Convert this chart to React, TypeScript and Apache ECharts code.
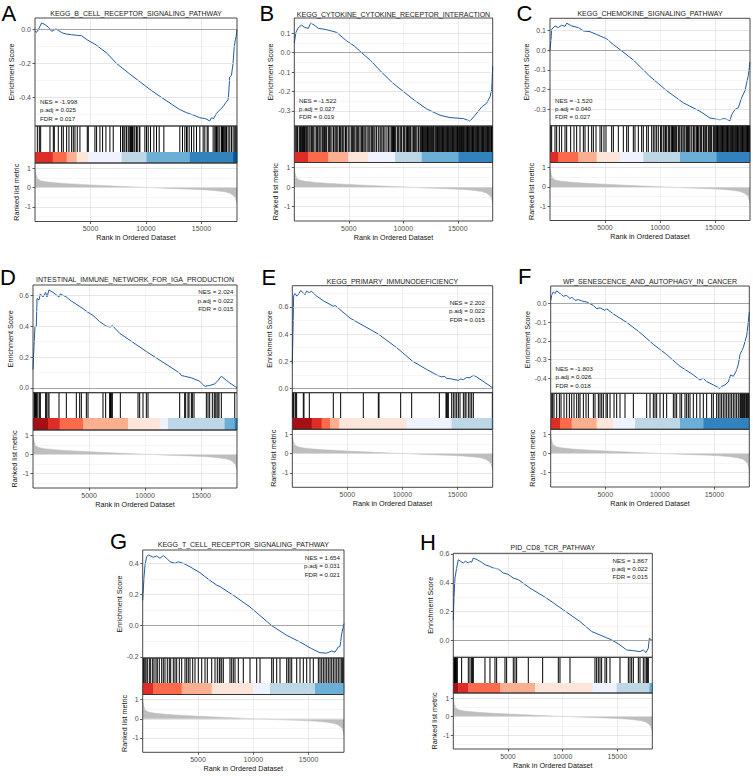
import React, { useEffect, useRef } from "react";
import * as echarts from "echarts";

const FONT = '"Liberation Sans", Arial, Helvetica, sans-serif';
const X_MAX = 18200;
const X_LABEL_TICKS = [5000, 10000, 15000];

const LETTERS = ["A", "B", "C", "D", "E", "F", "G", "H"];
const TITLES = [
  "KEGG_B_CELL_RECEPTOR_SIGNALING_PATHWAY",
  "KEGG_CYTOKINE_CYTOKINE_RECEPTOR_INTERACTION",
  "KEGG_CHEMOKINE_SIGNALING_PATHWAY",
  "INTESTINAL_IMMUNE_NETWORK_FOR_IGA_PRODUCTION",
  "KEGG_PRIMARY_IMMUNODEFICIENCY",
  "WP_SENESCENCE_AND_AUTOPHAGY_IN_CANCER",
  "KEGG_T_CELL_RECEPTOR_SIGNALING_PATHWAY",
  "PID_CD8_TCR_PATHWAY",
];
const NES = ["-1.998", "-1.522", "-1.520", "2.024", "2.202", "-1.803", "1.654", "1.867"];
const PADJ = ["0.025", "0.027", "0.040", "0.022", "0.022", "0.026", "0.031", "0.022"];
const FDR = ["0.017", "0.019", "0.027", "0.015", "0.015", "0.018", "0.021", "0.015"];

// running enrichment score: [rank, ES]
const ES_A = [[0,-0.01],[150,-0.015],[300,0.0],[600,0.04],[900,0.03],[1200,0.015],[1500,-0.01],[1890,0.005],[2100,-0.005],[2500,-0.02],[2850,-0.026],[3300,-0.03],[3800,-0.033],[4200,-0.036],[4700,-0.06],[5500,-0.09],[6500,-0.14],[7350,-0.2],[8500,-0.26],[9500,-0.31],[10500,-0.36],[11400,-0.4],[12300,-0.44],[13000,-0.47],[13640,-0.49],[14300,-0.505],[14840,-0.52],[15300,-0.525],[15500,-0.53],[15740,-0.54],[15900,-0.52],[16100,-0.525],[16340,-0.495],[16700,-0.47],[16940,-0.455],[17200,-0.43],[17390,-0.415],[17450,-0.38],[17540,-0.28],[17700,-0.27],[17840,-0.2],[17950,-0.1],[18050,-0.06],[18120,-0.04],[18200,0.0]];
const ES_B = [[0,0.05],[150,0.105],[370,0.13],[670,0.143],[980,0.13],[1290,0.126],[1500,0.154],[1900,0.14],[2200,0.126],[2970,0.119],[3880,0.105],[4800,0.061],[5500,0.035],[6180,0.0],[7000,-0.04],[8000,-0.1],[9000,-0.155],[10000,-0.2],[11000,-0.245],[12140,-0.29],[13370,-0.323],[14290,-0.335],[15510,-0.34],[16120,-0.353],[16580,-0.323],[17190,-0.28],[17650,-0.26],[17960,-0.227],[18110,-0.19],[18200,-0.07]];
const ES_C = [[0,0.0],[91,0.053],[152,0.105],[455,0.122],[758,0.114],[1062,0.126],[1365,0.12],[1517,0.136],[1971,0.122],[2578,0.114],[3033,0.097],[3640,0.093],[4246,0.079],[5156,0.057],[5763,0.028],[6430,0.0],[7583,-0.05],[9099,-0.133],[10616,-0.205],[12132,-0.266],[13649,-0.309],[14559,-0.343],[15469,-0.352],[15800,-0.345],[16100,-0.35],[16379,-0.357],[16530,-0.326],[16833,-0.3],[17137,-0.291],[17440,-0.24],[17743,-0.205],[18047,-0.128],[18199,-0.059]];
const ES_D = [[0,0.12],[89,0.27],[178,0.4],[297,0.4],[357,0.58],[535,0.57],[654,0.61],[892,0.59],[1130,0.62],[1249,0.59],[1427,0.636],[1784,0.62],[2319,0.59],[2438,0.61],[2974,0.59],[3420,0.563],[3568,0.557],[4460,0.514],[4906,0.49],[5352,0.47],[5947,0.43],[6542,0.4],[6900,0.395],[7077,0.405],[7731,0.354],[10110,0.236],[13083,0.096],[13232,0.08],[13530,0.075],[14124,0.065],[14868,0.043],[15314,0.01],[15760,0.015],[16206,0.025],[16503,0.048],[16801,0.075],[17545,0.032],[18200,0.0]];
const ES_E = [[0,0.18],[61,0.41],[121,0.68],[242,0.7],[400,0.68],[545,0.69],[757,0.72],[999,0.704],[1150,0.69],[1302,0.716],[1545,0.704],[1726,0.716],[2211,0.679],[2817,0.645],[3725,0.605],[3900,0.61],[4331,0.58],[5239,0.518],[7813,0.4],[9479,0.3],[10933,0.2],[12205,0.14],[13113,0.1],[13568,0.085],[13800,0.09],[14022,0.075],[14476,0.07],[15082,0.06],[15300,0.07],[15536,0.065],[15800,0.08],[16142,0.08],[16445,0.097],[16748,0.085],[18200,0.005]];
const ES_F = [[0,0.018],[92,0.045],[244,0.064],[397,0.055],[550,0.069],[855,0.055],[1160,0.04],[1466,0.045],[1771,0.027],[1924,0.036],[2229,0.018],[2534,0.022],[2840,0.015],[3298,0.009],[3908,-0.009],[4214,-0.027],[4519,-0.022],[4977,-0.036],[5130,-0.027],[5740,-0.055],[6962,-0.1],[8183,-0.155],[9405,-0.218],[10626,-0.273],[11847,-0.336],[13069,-0.382],[13679,-0.41],[13985,-0.4],[14290,-0.418],[14901,-0.436],[15511,-0.455],[15664,-0.445],[15969,-0.436],[16275,-0.42],[16489,-0.382],[16733,-0.39],[16977,-0.364],[17191,-0.327],[17344,-0.273],[17649,-0.236],[17954,-0.173],[18107,-0.1],[18199,-0.045]];
const ES_G = [[0,0.163],[118,0.31],[208,0.39],[359,0.443],[510,0.454],[721,0.447],[962,0.439],[1263,0.447],[1564,0.432],[1865,0.45],[2200,0.43],[2467,0.41],[2920,0.4],[3221,0.41],[3673,0.4],[4275,0.378],[5179,0.34],[6083,0.29],[6700,0.26],[7000,0.25],[8192,0.195],[9702,0.12],[11664,0.0],[13020,-0.062],[14222,-0.105],[15280,-0.148],[16031,-0.174],[16637,-0.176],[17089,-0.163],[17387,-0.17],[17685,-0.137],[17839,-0.133],[17993,-0.052],[18200,0.013]];
const ES_H = [[0,0.144],[61,0.294],[152,0.433],[305,0.503],[457,0.56],[671,0.549],[915,0.537],[1100,0.55],[1372,0.537],[1524,0.549],[1680,0.543],[1829,0.572],[2200,0.56],[2591,0.542],[2896,0.526],[3300,0.515],[3659,0.503],[4116,0.496],[4573,0.468],[5000,0.46],[5488,0.433],[5945,0.422],[7012,0.364],[8537,0.294],[10061,0.213],[11585,0.132],[12652,0.063],[13415,0.039],[14000,0.02],[14482,0.005],[15244,-0.03],[15854,-0.065],[16463,-0.07],[17073,-0.076],[17378,-0.065],[17622,-0.083],[17835,-0.053],[17927,0.016],[18200,0.0]];

const Y_TICKS_A = [-0.4, -0.2, 0.0];
const Y_TICKS_B = [-0.3, -0.2, -0.1, 0.0, 0.1];
const Y_TICKS_C = [-0.3, -0.2, -0.1, 0.0, 0.1];
const Y_TICKS_D = [0.0, 0.2, 0.4, 0.6];
const Y_TICKS_E = [0.0, 0.2, 0.4, 0.6];
const Y_TICKS_F = [-0.4, -0.3, -0.2, -0.1, 0.0];
const Y_TICKS_G = [-0.2, 0.0, 0.2, 0.4];
const Y_TICKS_H = [0.0, 0.2, 0.4, 0.6];

// gene-set hit positions (rank)
const HITS_A = [210,390,510,1350,1650,1740,2100,2400,2550,2850,3060,3300,3450,3600,3810,4050,4710,4800,5400,5550,5850,6090,6390,6750,7050,7710,7890,8010,8100,8250,8400,8490,8610,8700,8790,8910,9000,9150,9210,9390,9450,9900,10050,10200,10410,10710,10950,11190,11610,13050,13290,13500,13650,13710,13890,14100,14310,14550,14850,15150,15300,15510,15600,16050,16200,16290,16350,16410,16500,16650,16800,16890,16950,17010,17100,17190,17250,17400,17550,17700,17850,18000,18090,18180];
const HITS_B = [61,153,230,306,450,520,581,673,760,850,930,1009,1132,1230,1350,1450,1591,1650,1744,1900,2050,2141,2264,2350,2450,2600,2700,2780,2880,2967,3120,3212,3300,3450,3600,3732,3824,3900,4000,4150,4252,4374,4450,4550,4700,4803,4950,5100,5262,5354,5450,5550,5680,5782,5874,6026,6150,6250,6380,6485,6577,6750,6850,6944,7097,7189,7300,7400,7550,7709,7862,7950,8050,8200,8321,8500,8650,8780,8933,9000,9100,9200,9300,9450,9545,9698,9780,9850,10003,10080,10156,10309,10380,10462,10550,10650,10800,10921,11000,11074,11150,11250,11400,11533,11600,11686,11760,11839,11920,11992,12060,12145,12220,12298,12380,12451,12520,12600,12695,12750,12800,12909,12980,13062,13140,13215,13300,13368,13440,13521,13600,13674,13750,13827,13900,13980,14060,14133,14210,14286,14360,14439,14520,14592,14670,14745,14820,14898,14970,15051,15143,15200,15265,15330,15388,15450,15510,15590,15663,15740,15816,15890,15969,16050,16122,16200,16275,16350,16428,16500,16581,16650,16734,16800,16887,16960,17040,17120,17193,17270,17346,17420,17499,17570,17652,17730,17805,17880,17958,18040,18080,18111,18170];
const HITS_C = [61,152,455,607,849,1062,1365,1517,1880,2184,2426,2730,3033,3185,3488,3791,3943,4186,4550,4701,4913,5095,5611,5763,6218,6673,6976,7128,7583,7734,8037,8341,8492,8796,8947,9251,9402,9550,9706,9857,10050,10161,10312,10464,10500,10616,10767,10850,10919,11070,11150,11222,11300,11374,11450,11525,11677,11750,11829,11980,12100,12200,12284,12435,12500,12587,12650,12739,12900,13042,13100,13194,13345,13420,13497,13649,13720,13800,13952,14000,14103,14180,14255,14407,14480,14558,14630,14710,14862,14940,15013,15090,15165,15240,15317,15390,15468,15540,15620,15700,15772,15850,15923,16000,16075,16150,16226,16300,16378,16450,16530,16600,16681,16760,16833,16900,16985,17060,17136,17210,17288,17360,17440,17520,17591,17670,17743,17820,17894,17970,18046,18100,18137,18180];
const HITS_D = [89,149,208,238,297,357,446,595,654,1130,1190,1338,1428,2320,2974,3866,4164,4312,4758,4907,6245,6483,6840,6900,6929,6989,7078,7792,9368,9517,9814,10112,10260,13086,13532,13621,13829,13918,14127,14216,14364,15465,15614,15762,16000,16171,16260,16408,16505,16594,16802,18000];
const HITS_E = [30,91,151,303,394,999,1060,1544,3724,4391,6450,7812,7873,9841,10840,13353,13959,14020,14080,14171,14474,14625,14777,14928,15080,15231,15534,15685,15776,15988,16139,16291,16442,18168];
const HITS_F = [92,183,305,550,794,947,1222,1466,1710,1924,2138,2382,2565,2688,2993,3237,3451,3909,4062,4367,4519,4673,4825,5070,5192,5436,5803,6047,6352,6810,7574,8796,9101,9406,9559,9712,10017,10323,10628,11239,11391,11544,11850,12002,12308,12460,12613,12766,13071,13377,13682,13987,14293,14751,14903,15209,15361,15514,15667,15819,15972,16125,16278,16430,16583,16736,16888,17041,17194,17347,17408,17499,17591,17652,17744,17805,17896,17957,18018,18110,18171];
const HITS_G = [54,118,208,298,416,597,723,904,1022,1203,1320,1501,1718,1863,2016,2224,2405,2532,2767,2921,3074,3309,3526,3825,3978,4123,4277,4521,4729,5027,5335,5633,5841,6239,6537,6745,6926,6990,7143,7288,7894,8047,8192,8346,8644,9096,9702,10308,10606,11664,11809,12116,12414,13020,13166,13319,13473,13925,14223,14522,14829,15127,15426,15878,16031,16185,16330,16484,16637,16782,16936,17089,17234,17388,17542,17686,17840,17993,18083,18138];
const HITS_H = [61,91,122,152,183,213,244,305,366,762,1372,1525,1677,1768,1829,2897,3354,3811,3964,4726,4878,5488,5641,5793,6860,8171,9604,9757,10672,12958,13111,13263,13416,13568,13873,14025,14330,15245,16007,16160,16312,16465,16922,17074,17379,17532,17684,17745,17836];

// colour band segments: [from rank, to rank, colour]
const BAND_A = [[0,1590,"#DE2D26"],[1590,2850,"#FB6A4A"],[2850,3750,"#FCAE91"],[3750,4800,"#FEE5D9"],[4800,7800,"#EFF3FF"],[7800,10050,"#BDD7E7"],[10050,13950,"#6BAED6"],[13950,17850,"#3182BD"],[17850,18200,"#08519C"]];
const BAND_B = [[0,1285,"#DE2D26"],[1285,3120,"#FB6A4A"],[3120,4956,"#FCAE91"],[4956,6791,"#FEE5D9"],[6791,9238,"#EFF3FF"],[9238,11686,"#BDD7E7"],[11686,15051,"#6BAED6"],[15051,18200,"#3182BD"]];
const BAND_C = [[0,758,"#DE2D26"],[758,2578,"#FB6A4A"],[2578,4246,"#FCAE91"],[4246,6369,"#FEE5D9"],[6369,8492,"#EFF3FF"],[8492,11829,"#BDD7E7"],[11829,15165,"#6BAED6"],[15165,18200,"#3182BD"]];
const BAND_D = [[0,1340,"#A50F15"],[1340,2380,"#DE2D26"],[2380,4460,"#FB6A4A"],[4460,8480,"#FCAE91"],[8480,11300,"#FEE5D9"],[11300,12040,"#EFF3FF"],[12040,17100,"#BDD7E7"],[17100,18000,"#6BAED6"],[18000,18200,"#3182BD"]];
const BAND_E = [[0,1760,"#A50F15"],[1760,2660,"#DE2D26"],[2660,3420,"#FB6A4A"],[3420,4270,"#FCAE91"],[4270,10390,"#FEE5D9"],[10390,14470,"#EFF3FF"],[14470,18100,"#BDD7E7"],[18100,18200,"#6BAED6"]];
const BAND_F = [[0,855,"#DE2D26"],[855,1924,"#FB6A4A"],[1924,4214,"#FCAE91"],[4214,5741,"#FEE5D9"],[5741,7727,"#EFF3FF"],[7727,11850,"#BDD7E7"],[11850,13987,"#6BAED6"],[13987,18200,"#3182BD"]];
const BAND_G = [[0,960,"#DE2D26"],[960,3526,"#FB6A4A"],[3526,6239,"#FCAE91"],[6239,10000,"#FEE5D9"],[10000,11510,"#EFF3FF"],[11510,15580,"#BDD7E7"],[15580,18200,"#6BAED6"]];
const BAND_H = [[0,457,"#A50F15"],[457,1372,"#DE2D26"],[1372,4269,"#FB6A4A"],[4269,7470,"#FCAE91"],[7470,12745,"#FEE5D9"],[12745,14940,"#EFF3FF"],[14940,17930,"#BDD7E7"],[17930,18200,"#6BAED6"]];

// ranked list metric (shared): [rank, metric]
const METRIC = [[0,1.0],[30,0.85],[100,0.65],[250,0.45],[500,0.36],[1000,0.3],[2000,0.24],[3000,0.2],[5000,0.14],[7500,0.07],[9500,0.02],[10500,0.0],[12000,-0.04],[14000,-0.08],[15500,-0.12],[16500,-0.17],[17200,-0.23],[17600,-0.3],[17900,-0.42],[18050,-0.55],[18150,-0.72],[18200,-0.85]];
const METRIC_TICKS = [-1, 0, 1];
const METRIC_RANGE = [-1.75, 1.27];

const ES_ALL = [ES_A, ES_B, ES_C, ES_D, ES_E, ES_F, ES_G, ES_H];
const YT_ALL = [Y_TICKS_A, Y_TICKS_B, Y_TICKS_C, Y_TICKS_D, Y_TICKS_E, Y_TICKS_F, Y_TICKS_G, Y_TICKS_H];
const HITS_ALL = [HITS_A, HITS_B, HITS_C, HITS_D, HITS_E, HITS_F, HITS_G, HITS_H];
const BAND_ALL = [BAND_A, BAND_B, BAND_C, BAND_D, BAND_E, BAND_F, BAND_G, BAND_H];

// panel geometry (px)
const LAYOUT = [
  { l: 35, r: 237, t: 18, tb: 126, gb: 152, cb: 163, bb: 221.5, lx: 1.5, ly: 13, ty: 13.3, nx: 40, ny: 101.5, na: "left" },
  { l: 294.3, r: 492.7, t: 18, tb: 126, gb: 152, cb: 162.5, bb: 221, lx: 259.5, ly: 13, ty: 14, nx: 299, ny: 100, na: "left" },
  { l: 550, r: 750, t: 18.3, tb: 125.7, gb: 152, cb: 162.5, bb: 220.5, lx: 516.5, ly: 13, ty: 13.3, nx: 555, ny: 100, na: "left" },
  { l: 33, r: 237, t: 285, tb: 392.7, gb: 418, cb: 430, bb: 488, lx: 0, ly: 277.5, ty: 279.3, nx: 233.5, ny: 291.7, na: "right" },
  { l: 292.3, r: 492.7, t: 285.7, tb: 392.7, gb: 418, cb: 429.3, bb: 487.3, lx: 261.5, ly: 277, ty: 281, nx: 485, ny: 302.3, na: "right" },
  { l: 550.7, r: 749.3, t: 286, tb: 393.3, gb: 418, cb: 429.3, bb: 487, lx: 518, ly: 276.8, ty: 281, nx: 555.5, ny: 368.3, na: "left" },
  { l: 142.7, r: 344, t: 550, tb: 658, gb: 683, cb: 694.5, bb: 752.3, lx: 110, ly: 541, ty: 544.3, nx: 340, ny: 557.3, na: "right" },
  { l: 453.3, r: 652.3, t: 553.3, tb: 657.3, gb: 683, cb: 693, bb: 749, lx: 420, ly: 542.5, ty: 547, nx: 647.7, ny: 560, na: "right" },
];

function gridValues(ticks: number[], min: number, max: number) {
  const step = ticks.length > 1 ? ticks[1] - ticks[0] : 1;
  const half = step / 2;
  const out: { v: number; major: boolean }[] = [];
  for (let k = Math.ceil(min / half - 1e-9); k * half <= max + 1e-9; k++) {
    const v = +(k * half).toFixed(6);
    const major = Math.abs(Math.round(v / step) * step - v) < 1e-6;
    out.push({ v, major });
  }
  return out;
}

function gridLineSeries(xi: number, vals: { v: number; major: boolean }[], zero: boolean) {
  const data: any[] = vals.map((g) => ({
    yAxis: g.v,
    lineStyle: { color: g.major ? "#DDDDDD" : "#ECECEC", width: g.major ? 0.7 : 0.5, type: "solid" },
  }));
  if (zero) data.push({ yAxis: 0, lineStyle: { color: "#9E9E9E", width: 0.9, type: "solid" } });
  return {
    type: "line",
    xAxisIndex: xi,
    yAxisIndex: xi,
    data: [],
    silent: true,
    z: 1,
    markLine: { silent: true, symbol: ["none", "none"], label: { show: false }, animation: false, data },
  };
}

function buildOption() {
  const grid: any[] = [];
  const xAxis: any[] = [];
  const yAxis: any[] = [];
  const series: any[] = [];
  const graphic: any[] = [];

  LAYOUT.forEach((L, i) => {
    const es = ES_ALL[i];
    const vals = es.map((d) => d[1]);
    const mx = Math.max(...vals);
    const mn = Math.min(...vals);
    const pad = (mx - mn) * 0.05;
    const ymin = mn - pad;
    const ymax = mx + pad;
    const w = L.r - L.l;
    const gi = i * 3;
    const frac = (L.cb - L.gb) / (L.cb - L.tb);

    grid.push({ left: L.l, top: L.t, width: w, height: L.tb - L.t });
    grid.push({ left: L.l, top: L.tb, width: w, height: L.cb - L.tb });
    grid.push({ left: L.l, top: L.cb, width: w, height: L.bb - L.cb });

    const xBase = (g: number, labels: boolean, split: boolean) => ({
      type: "value",
      gridIndex: g,
      position: "bottom",
      min: 0,
      max: X_MAX,
      interval: 2500,
      axisLine: { show: false, onZero: false },
      axisTick: {
        show: labels,
        customValues: X_LABEL_TICKS,
        length: 2.5,
        lineStyle: { color: "#333", width: 0.8 },
      },
      axisLabel: {
        show: labels,
        fontSize: 7,
        color: "#4D4D4D",
        fontFamily: FONT,
        margin: 3.5,
        formatter: (v: number) => (v > 0 && v % 5000 === 0 ? String(v) : ""),
      },
      splitLine: { show: split, lineStyle: { color: ["#DDDDDD", "#ECECEC"], width: 0.6 } },
      name: labels ? "Rank in Ordered Dataset" : "",
      nameLocation: "middle",
      nameGap: 12.5,
      nameTextStyle: { fontSize: 7.2, color: "#111", fontFamily: FONT },
    });
    xAxis.push(xBase(gi, false, true));
    xAxis.push(xBase(gi + 1, false, false));
    xAxis.push(xBase(gi + 2, true, true));

    yAxis.push({
      type: "value",
      gridIndex: gi,
      min: ymin,
      max: ymax,
      axisLine: { show: false, onZero: false },
      splitLine: { show: false },
      axisTick: { show: true, customValues: YT_ALL[i], length: 2.5, lineStyle: { color: "#333", width: 0.8 } },
      axisLabel: {
        customValues: YT_ALL[i],
        fontSize: 7,
        color: "#4D4D4D",
        fontFamily: FONT,
        margin: 4,
        formatter: (v: number) => v.toFixed(1),
      },
      name: "Enrichment Score",
      nameLocation: "middle",
      nameGap: 19,
      nameTextStyle: { fontSize: 7.2, color: "#111", fontFamily: FONT },
    });
    yAxis.push({ type: "value", gridIndex: gi + 1, min: 0, max: 1, show: false });
    yAxis.push({
      type: "value",
      gridIndex: gi + 2,
      min: METRIC_RANGE[0],
      max: METRIC_RANGE[1],
      axisLine: { show: false, onZero: false },
      splitLine: { show: false },
      axisTick: { show: true, customValues: METRIC_TICKS, length: 2.5, lineStyle: { color: "#333", width: 0.8 } },
      axisLabel: {
        customValues: METRIC_TICKS,
        fontSize: 7,
        color: "#4D4D4D",
        fontFamily: FONT,
        margin: 4,
        formatter: (v: number) => String(v),
      },
      name: "Ranked list metric",
      nameLocation: "middle",
      nameGap: 15,
      nameTextStyle: { fontSize: 7.2, color: "#111", fontFamily: FONT },
    });

    series.push(gridLineSeries(gi, gridValues(YT_ALL[i], ymin, ymax), true));
    series.push({
      type: "line",
      xAxisIndex: gi,
      yAxisIndex: gi,
      data: es,
      symbol: "none",
      silent: true,
      z: 3,
      lineStyle: { color: "#1F5CA5", width: 1 },
    });

    const hits = HITS_ALL[i];
    series.push({
      type: "custom",
      xAxisIndex: gi + 1,
      yAxisIndex: gi + 1,
      silent: true,
      z: 3,
      data: hits.map((h) => [h, 1]),
      encode: { x: 0, y: 1 },
      renderItem: (_p: any, api: any) => {
        const x = api.value(0);
        const a = api.coord([x, 1]);
        const b = api.coord([x, frac]);
        return {
          type: "line",
          shape: { x1: a[0], y1: a[1], x2: b[0], y2: b[1] },
          style: { stroke: "#000", lineWidth: 1 },
        };
      },
    });
    const band = BAND_ALL[i];
    series.push({
      type: "custom",
      xAxisIndex: gi + 1,
      yAxisIndex: gi + 1,
      silent: true,
      z: 4,
      data: band.map((b) => [b[0], b[1]]),
      encode: { x: [0, 1] },
      renderItem: (p: any, api: any) => {
        const s = api.coord([api.value(0), frac]);
        const e = api.coord([api.value(1), 0]);
        return {
          type: "rect",
          shape: { x: s[0], y: s[1], width: e[0] - s[0] + 0.4, height: e[1] - s[1] },
          style: { fill: band[p.dataIndex][2] as string },
        };
      },
    });

    series.push(gridLineSeries(gi + 2, gridValues(METRIC_TICKS, METRIC_RANGE[0], METRIC_RANGE[1]), false));
    series.push({
      type: "line",
      xAxisIndex: gi + 2,
      yAxisIndex: gi + 2,
      data: METRIC,
      symbol: "none",
      silent: true,
      z: 3,
      lineStyle: { width: 0.5, color: "#BEBEBE" },
      areaStyle: { color: "#BEBEBE", opacity: 1, origin: 0 },
    });

    // borders
    [
      [L.t, L.tb],
      [L.tb, L.cb],
      [L.cb, L.bb],
    ].forEach(([y0, y1]) => {
      graphic.push({
        type: "rect",
        silent: true,
        z: 50,
        shape: { x: L.l, y: y0, width: w, height: y1 - y0 },
        style: { fill: "none", stroke: "#333", lineWidth: 0.9 },
      });
    });

    // letter
    graphic.push({
      type: "text",
      x: L.lx,
      y: L.ly,
      z: 50,
      style: {
        text: LETTERS[i],
        fontSize: 22,
        fontFamily: FONT,
        fill: "#000",
        align: "left",
        verticalAlign: "middle",
        textAlign: "left",
        textVerticalAlign: "middle",
      },
    });
    // title
    graphic.push({
      type: "text",
      x: (L.l + L.r) / 2,
      y: L.ty,
      z: 50,
      style: {
        text: TITLES[i],
        fontSize: 7,
        fontFamily: FONT,
        fill: "#1A1A1A",
        align: "center",
        verticalAlign: "middle",
        textAlign: "center",
        textVerticalAlign: "middle",
      },
    });
    // NES annotation
    const lines = ["NES = " + NES[i], "p.adj = " + PADJ[i], "FDR = " + FDR[i]];
    lines.forEach((t, k) => {
      graphic.push({
        type: "text",
        x: L.nx,
        y: L.ny + k * 8.4,
        z: 50,
        style: {
          text: t,
          fontSize: 6.2,
          fontFamily: FONT,
          fill: "#222",
          align: L.na,
          verticalAlign: "middle",
          textAlign: L.na,
          textVerticalAlign: "middle",
        },
      });
    });
  });

  return {
    animation: false,
    backgroundColor: "#FFFFFF",
    grid,
    xAxis,
    yAxis,
    series,
    graphic,
  };
}

export default function App() {
  const ref = useRef<HTMLDivElement>(null);
  useEffect(() => {
    if (!ref.current) return;
    const chart = echarts.init(ref.current, undefined, { renderer: "svg" });
    chart.setOption(buildOption() as any);
    return () => chart.dispose();
  }, []);
  return (
    <div
      ref={ref}
      style={{ position: "absolute", left: 0, top: 0, width: 753, height: 776, background: "#fff" }}
    />
  );
}
